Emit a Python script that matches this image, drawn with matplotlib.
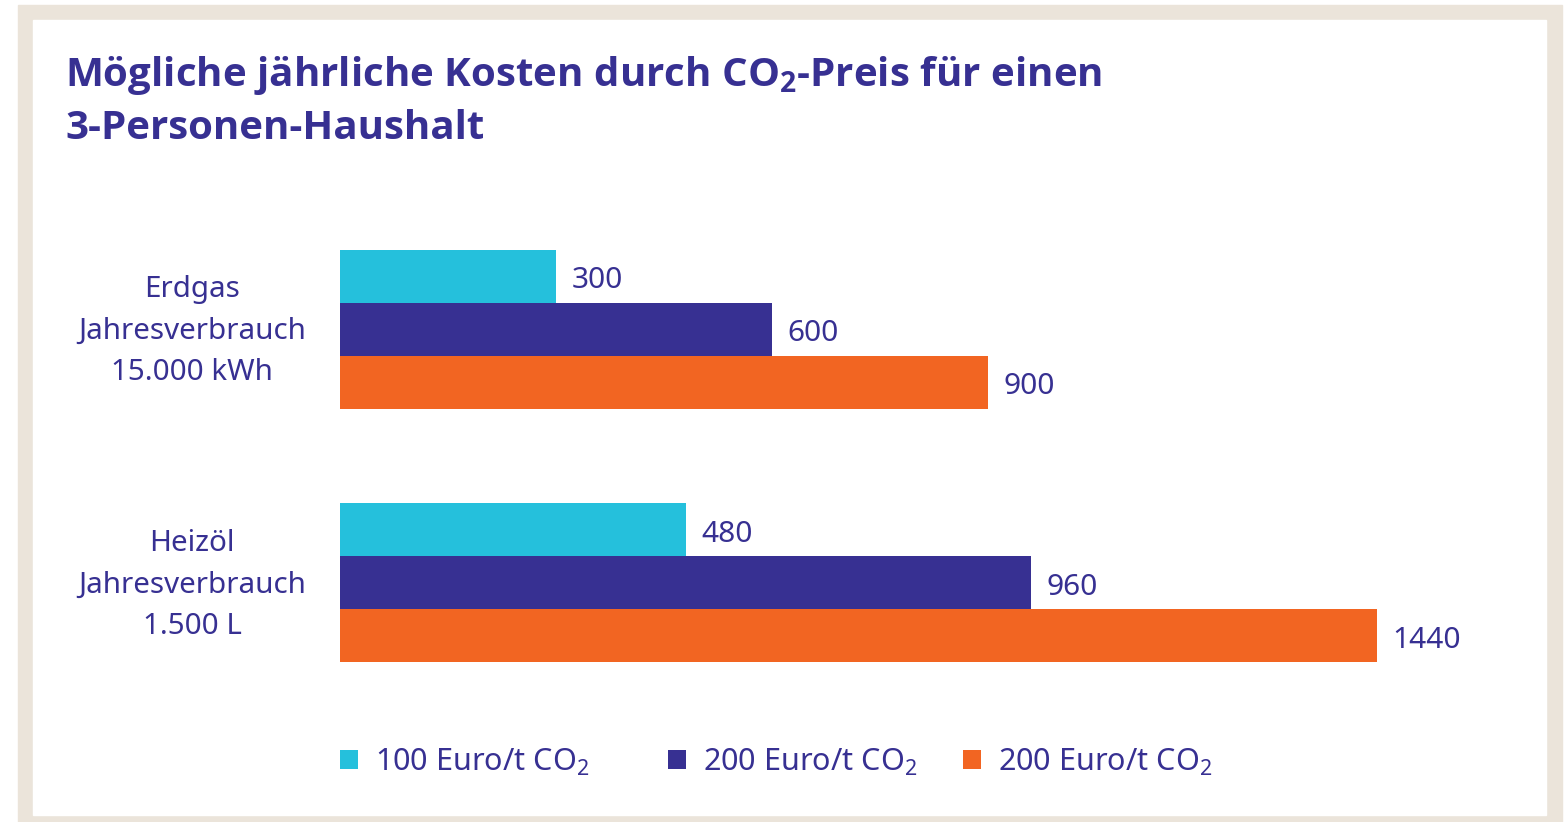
import numpy as np
import matplotlib.pyplot as plt
from matplotlib.patches import Rectangle

plt.rcParams['font.family'] = ['Noto Sans', 'DejaVu Sans']
plt.rcParams['mathtext.fontset'] = 'custom'
plt.rcParams['mathtext.rm'] = 'Noto Sans'
plt.rcParams['mathtext.bf'] = 'Open Sans:bold'

categories = ['Erdgas\nJahresverbrauch\n15.000 kWh', 'Heizöl\nJahresverbrauch\n1.500 L']
series = ['100 Euro/t CO$_2$', '200 Euro/t CO$_2$', '200 Euro/t CO$_2$']
values = [
    [300, 480],
    [600, 960],
    [900, 1440],
]
colors = ['#25c0dc', '#373092', '#f26522']
navy = '#373092'

W, H = 1564, 822
fig = plt.figure(figsize=(W / 100, H / 100), dpi=100)

# beige frame with white panel
fig.patches.append(Rectangle((18 / W, 0), (1562 - 18) / W, (822 - 5) / H,
                             transform=fig.transFigure, color='#ebe4da', zorder=-2))
fig.patches.append(Rectangle((33 / W, (822 - 815) / H), (1546 - 33) / W, (815 - 20) / H,
                             transform=fig.transFigure, color='white', zorder=-1))

fig.text(65 / W, 1 - 54 / H,
         'Mögliche jährliche Kosten durch CO$_\\mathbf{2}$-Preis für einen\n3-Personen-Haushalt',
         family=['Open Sans', 'DejaVu Sans'],
         color=navy, fontsize=29, fontweight='bold', va='top', ha='left',
         linespacing=1.4)

ax = fig.add_axes([340 / W, 1 - 712 / H, 1152 / W, 512 / H])
ax.set_zorder(1)
ax.set_facecolor('none')
y = np.arange(len(categories))
bh = 53 / 254
offsets = [-bh, 0, bh]
bars = []
for vals, off, c, lab in zip(values, offsets, colors, series):
    b = ax.barh(y + off, vals, height=bh, color=c, label=lab)
    for v, yy in zip(vals, y + off):
        ax.annotate(str(v), xy=(v, yy), xytext=(11, -3), textcoords='offset points',
                    va='center', ha='left', fontsize=21.5, color=navy)
    bars.append(b)

ax.set_xlim(0, 1600)
ax.set_ylim(1.508, -0.508)
ax.set_yticks([])
ax.set_xticks([])
for s in ax.spines.values():
    s.set_visible(False)

# category labels to the left of the bars
for yy, cat in zip(y, categories):
    ax.text(-(340 - 192) / 1152, yy + 0.008, cat, transform=ax.get_yaxis_transform(),
            ha='center', va='center', multialignment='center', linespacing=1.58,
            fontsize=21.3, color=navy)

legend_x = [340, 668, 963]
for b, lab, lx in zip(bars, series, legend_x):
    leg = fig.legend(handles=[b], labels=[lab], loc='center left',
                     bbox_to_anchor=(lx / W, 1 - 762 / H), frameon=False,
                     fontsize=22, labelcolor=navy, handlelength=0.59,
                     handleheight=0.59, handletextpad=0.56, borderpad=0,
                     borderaxespad=0)

fig.savefig('out.png', dpi=100)
